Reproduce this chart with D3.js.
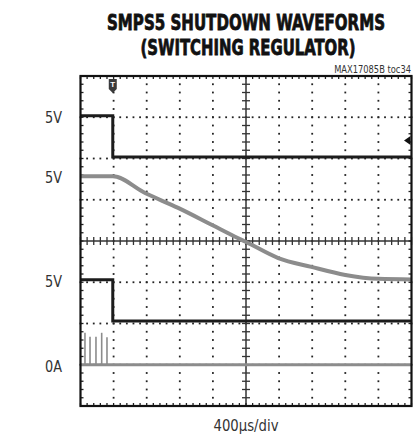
<!DOCTYPE html>
<html>
<head>
<meta charset="utf-8">
<script src="https://cdn.jsdelivr.net/npm/d3@7"></script>
<style>
  html, body { margin: 0; padding: 0; background: #fff; }
  svg { display: block; }
  .narrow { font-family: "Liberation Sans Narrow", "Arial Narrow", "DejaVu Sans Condensed", "Liberation Sans", sans-serif; font-stretch: condensed; }
</style>
</head>
<body>
<svg id="chart" width="413" height="436"></svg>
<script>
// ---- Waveform data (time in µs, 400 µs/div, 10 divisions) ----
const timeSpan = [0, 4000];
const timePerDiv = 400;

// CH1: control input, steps low at shutdown (V)
const ch1Time  = [0, 390, 390, 4000];
const ch1Value = [5, 5, 0, 0];

// CH2: output voltage discharging (V)
const ch2Time  = [0, 390, 780, 1180, 1590, 1900, 2000, 2390, 2790, 3200, 3600, 4000];
const ch2Value = [5, 5.0, 4.19, 3.47, 2.64, 2.01, 1.82, 1.04, 0.61, 0.22, 0.03, 0.0];

// CH3: regulator status, steps low at shutdown (V)
const ch3Time  = [0, 390, 390, 4000];
const ch3Value = [5, 5, 0, 0];

// CH4: inductor current (A), switching pulses before shutdown
const ch4Time  = [0, 4000];
const ch4Value = [0, 0];
const pulseTime   = [54, 115, 187, 256, 320];
const pulseValue  = [1.55, 1.36, 1.36, 1.55, 1.33];

// Left-side channel labels
const channelLabels = ["5V", "5V", "5V", "0A"];
const labelValue    = [5, 5, 5, 0];

const triggerTime = 390;   // trigger position (µs)
const triggerLevel = 2;    // CH1 trigger level (V)

// ---- Channel display settings: zero position (divisions from centre) and units/div ----
const channels = [
  { time: ch1Time, value: ch1Value, zero: 2.036, perDiv: 5, color: "#1c1c1c", width: 3 },
  { time: ch2Time, value: ch2Value, zero: -0.933, perDiv: 2, color: "#8c8c8c", width: 4, curve: d3.curveMonotoneX },
  { time: ch3Time, value: ch3Value, zero: -1.939, perDiv: 5, color: "#1c1c1c", width: 3 },
  { time: ch4Time, value: ch4Value, zero: -3.0, perDiv: 2, color: "#8c8c8c", width: 3 }
];

const svg = d3.select("#chart");
const plotL = 80.5, plotR = 411.5, plotT = 76, plotB = 406;

const x = d3.scaleLinear().domain(timeSpan).range([plotL, plotR]);
const y = d3.scaleLinear().domain([-4, 4]).range([plotB, plotT]);
const chY = (ch, v) => y(ch.zero + v / ch.perDiv);

// Condensed text: font size chosen so the natural width equals `width`,
// then stretched vertically so capitals reach `cap` pixels.
function condensedText(px, py, anchor, str, width, cap, opts) {
  const t = svg.append("text").attr("class", "narrow")
    .attr("x", 0).attr("y", 0).attr("text-anchor", anchor)
    .attr("fill", opts.fill || "#333")
    .attr("font-weight", opts.weight || "normal")
    .text(str);
  t.attr("font-size", 20);
  const w = t.node().getComputedTextLength();
  const size = 20 * width / w;
  t.attr("font-size", size);
  const k = Math.max(1, cap / (0.73 * size));
  t.attr("transform", `translate(${px},${py}) scale(1,${k})`);
  if (opts.stroke) t.attr("stroke", opts.fill).attr("stroke-width", opts.stroke);
  return t;
}

// ---- Title ----
const cx = (plotL + plotR) / 2;
condensedText(cx, 30, "middle", "SMPS5 SHUTDOWN WAVEFORMS", 278, 16, { fill: "#111", weight: "bold", stroke: 0.6 });
condensedText(cx + 2, 55, "middle", "(SWITCHING REGULATOR)", 215, 16, { fill: "#111", weight: "bold", stroke: 0.6 });
condensedText(411, 72.5, "end", "MAX17085B toc34", 77, 8, { fill: "#333" });

// ---- Graticule ----
const grid = svg.append("g");
const majorT = d3.range(timeSpan[0], timeSpan[1] + 1, timePerDiv);
const minorT = d3.range(timeSpan[0], timeSpan[1] + 1, timePerDiv / 5);
const majorV = d3.range(-4, 5, 1);
const minorV = d3.range(-40, 41, 2).map(d => d / 10);

// dotted lines on each major division
const dots = [];
majorT.slice(1, -1).forEach(t => { if (t !== 2000) minorV.forEach(v => dots.push([x(t), y(v)])); });
majorV.slice(1, -1).forEach(v => { if (v !== 0) minorT.forEach(t => dots.push([x(t), y(v)])); });
grid.selectAll("rect.dot").data(dots).join("rect").attr("class", "dot")
  .attr("x", d => d[0] - 0.9).attr("y", d => d[1] - 0.9)
  .attr("width", 1.8).attr("height", 1.8).attr("fill", "#222");

// centre crosshair with minor tick marks
grid.append("line").attr("x1", plotL).attr("x2", plotR).attr("y1", y(0)).attr("y2", y(0))
  .attr("stroke", "#333").attr("stroke-width", 1.5);
grid.append("line").attr("x1", x(2000)).attr("x2", x(2000)).attr("y1", plotT).attr("y2", plotB)
  .attr("stroke", "#333").attr("stroke-width", 1.5);
grid.selectAll("line.ht").data(minorT).join("line").attr("class", "ht")
  .attr("x1", d => x(d)).attr("x2", d => x(d)).attr("y1", y(0) - 4).attr("y2", y(0) + 4)
  .attr("stroke", "#333").attr("stroke-width", 1.3);
grid.selectAll("line.vt").data(minorV).join("line").attr("class", "vt")
  .attr("y1", d => y(d)).attr("y2", d => y(d)).attr("x1", x(2000) - 4).attr("x2", x(2000) + 4)
  .attr("stroke", "#333").attr("stroke-width", 1.3);

// border ticks
grid.selectAll("line.bt").data(minorT).join("line").attr("class", "bt")
  .attr("x1", d => x(d)).attr("x2", d => x(d)).attr("y1", plotB).attr("y2", plotB - 3)
  .attr("stroke", "#222").attr("stroke-width", 1.3);
grid.selectAll("line.tt").data(minorT).join("line").attr("class", "tt")
  .attr("x1", d => x(d)).attr("x2", d => x(d)).attr("y1", plotT).attr("y2", plotT + 3)
  .attr("stroke", "#222").attr("stroke-width", 1.3);
grid.selectAll("line.lt").data(minorV).join("line").attr("class", "lt")
  .attr("y1", d => y(d)).attr("y2", d => y(d)).attr("x1", plotL).attr("x2", plotL + 3)
  .attr("stroke", "#222").attr("stroke-width", 1.3);
grid.selectAll("line.rt").data(minorV).join("line").attr("class", "rt")
  .attr("y1", d => y(d)).attr("y2", d => y(d)).attr("x1", plotR).attr("x2", plotR - 3)
  .attr("stroke", "#222").attr("stroke-width", 1.3);

// ---- Traces ----
const traces = svg.append("g");
channels.forEach(ch => {
  const pts = ch.time.map((t, i) => [t, ch.value[i]]);
  const line = d3.line().x(d => x(d[0])).y(d => chY(ch, d[1])).curve(ch.curve || d3.curveLinear);
  traces.append("path").attr("d", line(pts))
    .attr("fill", "none").attr("stroke", ch.color).attr("stroke-width", ch.width)
    .attr("stroke-linejoin", "miter");
});
// CH4 current pulses
const ch4 = channels[3];
traces.selectAll("line.pulse").data(pulseTime.map((t, i) => [t, pulseValue[i]])).join("line")
  .attr("class", "pulse")
  .attr("x1", d => x(d[0])).attr("x2", d => x(d[0]))
  .attr("y1", chY(ch4, 0)).attr("y2", d => chY(ch4, d[1]))
  .attr("stroke", "#8c8c8c").attr("stroke-width", 1.6);

// ---- Border ----
svg.append("rect").attr("x", plotL).attr("y", plotT)
  .attr("width", plotR - plotL).attr("height", plotB - plotT)
  .attr("fill", "none").attr("stroke", "#111").attr("stroke-width", 2.2);

// ---- Trigger markers ----
const tx = x(triggerTime);
svg.append("path")
  .attr("d", `M${tx - 4},79 L${tx + 4},79 L${tx + 4},89 L${tx},93 L${tx - 4},89 Z`)
  .attr("fill", "#3a3a3a");
svg.append("text").attr("x", tx).attr("y", 87).attr("text-anchor", "middle")
  .attr("font-family", "Liberation Sans, sans-serif").attr("font-size", 8).attr("font-weight", "bold")
  .attr("fill", "#fff").text("T");
const ty = chY(channels[0], triggerLevel);
svg.append("path")
  .attr("d", `M${plotR - 7.5},${ty} L${plotR - 1},${ty - 4.5} L${plotR - 1},${ty + 4.5} Z`)
  .attr("fill", "#111");

// ---- Channel labels ----
channelLabels.forEach((lab, i) =>
  condensedText(62, chY(channels[i], labelValue[i]) + 7, "end", lab, 17, 12, { fill: "#333" }));

// ---- Time base label ----
condensedText(cx, 431, "middle", "400µs/div", 65, 12, { fill: "#333" });
</script>
</body>
</html>
